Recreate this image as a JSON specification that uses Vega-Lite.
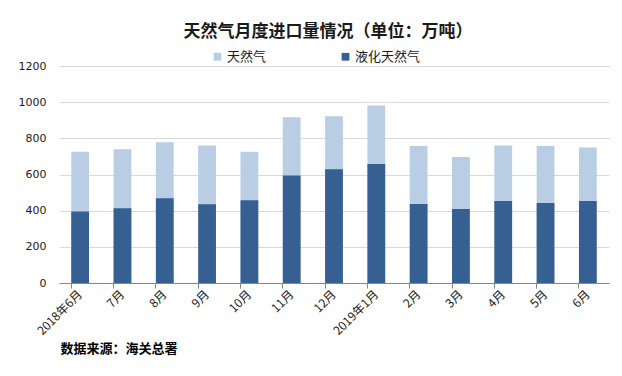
{
  "$schema": "https://vega.github.io/schema/vega-lite/v6.json",
  "width": 550,
  "height": 217,
  "autosize": {"type": "none"},
  "padding": {"left": 59, "top": 66, "right": 13, "bottom": 93},
  "background": "white",
  "title": {
    "text": "天然气月度进口量情况（单位：万吨）",
    "font": "Noto Sans CJK SC",
    "fontSize": 17,
    "fontWeight": "bold",
    "color": "#1a1a1a",
    "anchor": "middle",
    "dx": -6,
    "offset": 9
  },
  "data": {
    "values": [
      {"month": "2018年6月", "series": "天然气", "value": 726},
      {"month": "7月", "series": "天然气", "value": 739},
      {"month": "8月", "series": "天然气", "value": 778},
      {"month": "9月", "series": "天然气", "value": 761},
      {"month": "10月", "series": "天然气", "value": 726},
      {"month": "11月", "series": "天然气", "value": 916},
      {"month": "12月", "series": "天然气", "value": 922},
      {"month": "2019年1月", "series": "天然气", "value": 982},
      {"month": "2月", "series": "天然气", "value": 758},
      {"month": "3月", "series": "天然气", "value": 697},
      {"month": "4月", "series": "天然气", "value": 761},
      {"month": "5月", "series": "天然气", "value": 758},
      {"month": "6月", "series": "天然气", "value": 750},
      {"month": "2018年6月", "series": "液化天然气", "value": 396},
      {"month": "7月", "series": "液化天然气", "value": 413},
      {"month": "8月", "series": "液化天然气", "value": 468},
      {"month": "9月", "series": "液化天然气", "value": 435},
      {"month": "10月", "series": "液化天然气", "value": 457},
      {"month": "11月", "series": "液化天然气", "value": 595},
      {"month": "12月", "series": "液化天然气", "value": 629},
      {"month": "2019年1月", "series": "液化天然气", "value": 658},
      {"month": "2月", "series": "液化天然气", "value": 437},
      {"month": "3月", "series": "液化天然气", "value": 409},
      {"month": "4月", "series": "液化天然气", "value": 453},
      {"month": "5月", "series": "液化天然气", "value": 442},
      {"month": "6月", "series": "液化天然气", "value": 453}
    ]
  },
  "mark": {"type": "bar"},
  "encoding": {
    "x": {
      "field": "month",
      "type": "nominal",
      "sort": null,
      "scale": {"paddingInner": 0.58, "paddingOuter": 0.29},
      "axis": {
        "title": "数据来源：海关总署",
        "titleFont": "Noto Sans CJK SC",
        "titleFontSize": 13,
        "titleFontWeight": "bold",
        "titleColor": "#000000",
        "titleAnchor": "start",
        "titleAlign": "left",
        "titleBaseline": "middle",
        "titleX": 1,
        "titleY": 65,
        "labelAngle": -45,
        "labelAlign": "right",
        "labelBaseline": "middle",
        "labelFont": "Noto Sans CJK SC",
        "labelFontSize": 12,
        "labelColor": "#1a1a1a",
        "labelPadding": 4,
        "bandPosition": 0,
        "domainColor": "#868686",
        "tickColor": "#868686",
        "tickSize": 5,
        "grid": false
      }
    },
    "y": {
      "field": "value",
      "type": "quantitative",
      "stack": null,
      "scale": {"domain": [0, 1200]},
      "axis": {
        "title": null,
        "format": "d",
        "values": [0, 200, 400, 600, 800, 1000, 1200],
        "labelFont": "DejaVu Sans",
        "labelFontSize": 11,
        "labelColor": "#1a1a1a",
        "labelPadding": 13,
        "domain": false,
        "ticks": false,
        "gridColor": "#d9d9d9"
      }
    },
    "color": {
      "field": "series",
      "type": "nominal",
      "scale": {"domain": ["天然气", "液化天然气"], "range": ["#b9cde5", "#376092"]},
      "legend": {
        "title": null,
        "orient": "none",
        "direction": "horizontal",
        "legendX": 152,
        "legendY": -16,
        "symbolType": "square",
        "symbolSize": 60,
        "symbolStrokeWidth": 0,
        "labelFont": "Noto Sans CJK SC",
        "labelFontSize": 13,
        "labelColor": "#1a1a1a",
        "labelOffset": 3,
        "columnPadding": 72
      }
    }
  },
  "config": {"view": {"stroke": null}}
}
